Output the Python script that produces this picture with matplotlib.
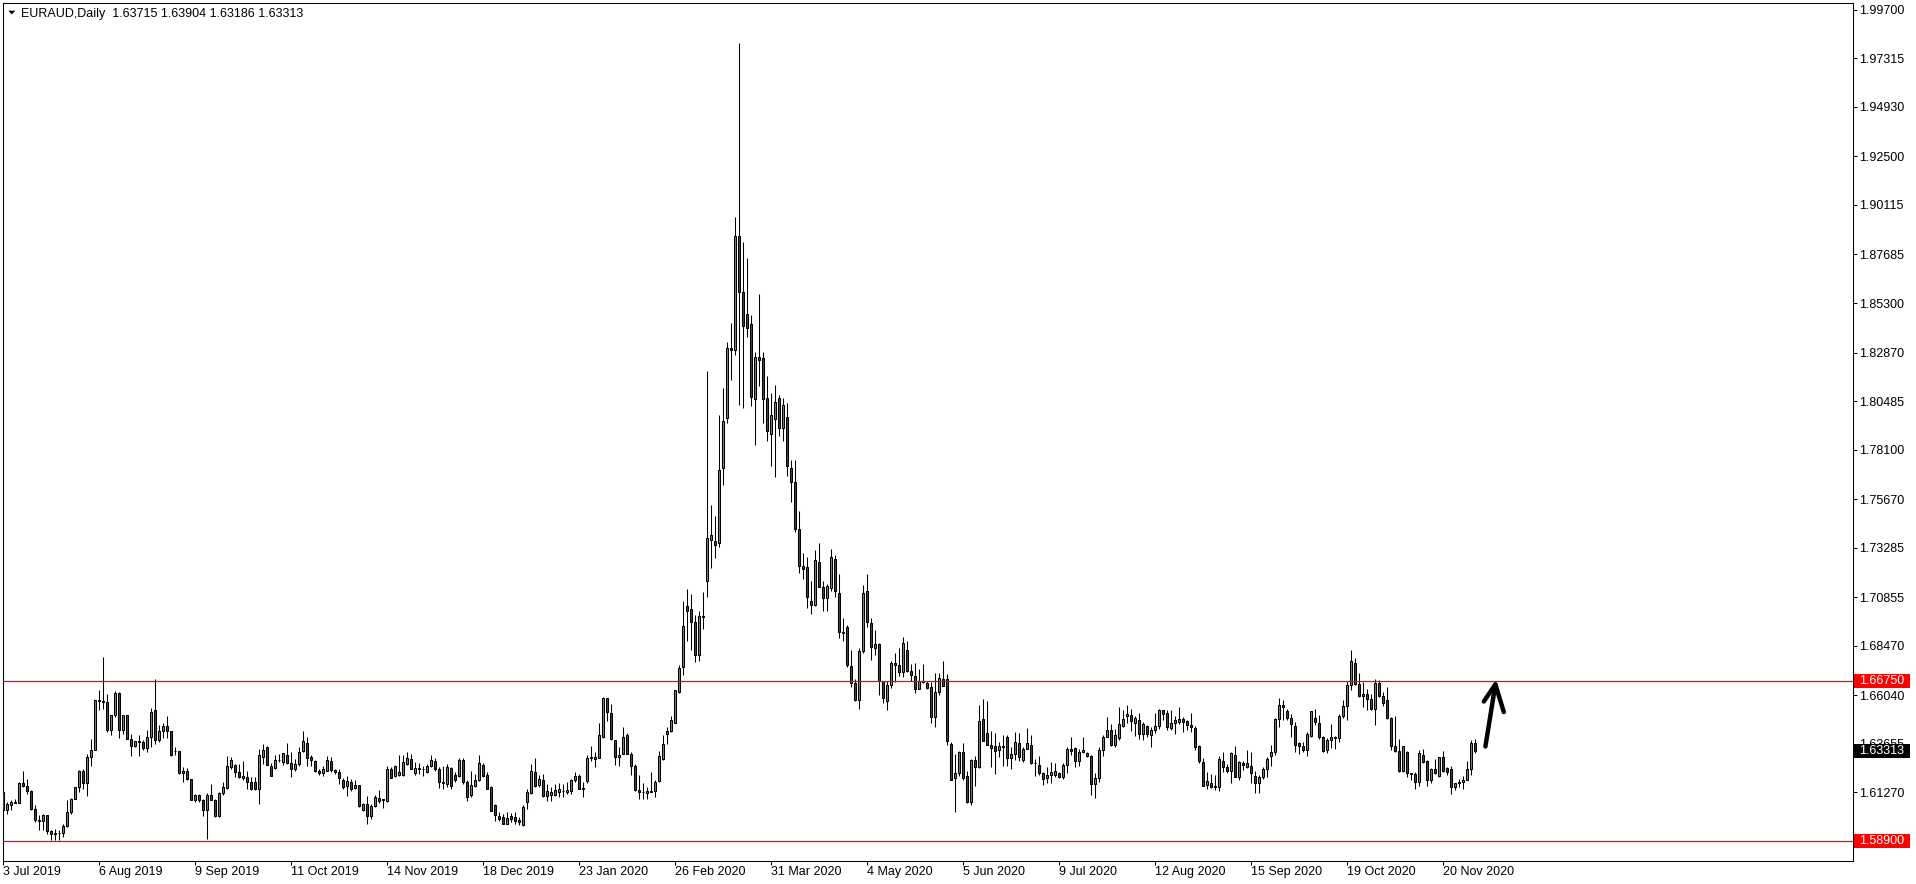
import numpy as np
import matplotlib
matplotlib.use("Agg")
from matplotlib import pyplot as plt
from matplotlib.patches import Rectangle, Polygon
from matplotlib.transforms import blended_transform_factory

# EURAUD daily bars, 3 Jul 2019 .. 2 Dec 2020
opens = [
    1.6129, 1.6042, 1.6063, 1.6080, 1.6076, 1.6175, 1.6158, 1.6134, 1.6047, 1.5990,
    1.5986, 1.6014, 1.5936, 1.5921, 1.5929, 1.5925, 1.5960, 1.6031, 1.6096, 1.6154,
    1.6231, 1.6175, 1.6301, 1.6334, 1.6578, 1.6575, 1.6572, 1.6435, 1.6506, 1.6617,
    1.6432, 1.6506, 1.6391, 1.6355, 1.6378, 1.6376, 1.6345, 1.6401, 1.6530, 1.6383,
    1.6427, 1.6455, 1.6427, 1.6330, 1.6328, 1.6222, 1.6230, 1.6190, 1.6091, 1.6113,
    1.6091, 1.6042, 1.6113, 1.6090, 1.6013, 1.6123, 1.6147, 1.6250, 1.6263, 1.6226,
    1.6198, 1.6204, 1.6180, 1.6177, 1.6144, 1.6299, 1.6349, 1.6258, 1.6247, 1.6286,
    1.6275, 1.6312, 1.6270, 1.6239, 1.6265, 1.6329, 1.6368, 1.6299, 1.6283, 1.6231,
    1.6221, 1.6234, 1.6283, 1.6237, 1.6229, 1.6185, 1.6160, 1.6177, 1.6147, 1.6163,
    1.6042, 1.6070, 1.6013, 1.6062, 1.6100, 1.6090, 1.6086, 1.6239, 1.6206, 1.6214,
    1.6214, 1.6267, 1.6291, 1.6221, 1.6245, 1.6240, 1.6226, 1.6254, 1.6283, 1.6242,
    1.6173, 1.6168, 1.6245, 1.6214, 1.6206, 1.6286, 1.6177, 1.6116, 1.6160, 1.6185,
    1.6263, 1.6214, 1.6152, 1.6067, 1.6013, 1.6005, 1.5972, 1.6013, 1.6008, 1.5993,
    1.5967, 1.6078, 1.6123, 1.6229, 1.6163, 1.6188, 1.6111, 1.6116, 1.6116, 1.6127,
    1.6131, 1.6127, 1.6131, 1.6185, 1.6206, 1.6145, 1.6181, 1.6296, 1.6291, 1.6296,
    1.6401, 1.6589, 1.6517, 1.6384, 1.6299, 1.6316, 1.6406, 1.6316, 1.6258, 1.6140,
    1.6130, 1.6124, 1.6130, 1.6135, 1.6184, 1.6291, 1.6414, 1.6430, 1.6468, 1.6622,
    1.6741, 1.7043, 1.7027, 1.6962, 1.6802, 1.6993, 1.7164, 1.7368, 1.7361, 1.7350,
    1.7722, 1.7967, 1.8309, 1.8300, 1.8859, 1.8585, 1.8478, 1.8427, 1.8060, 1.8263,
    1.8260, 1.8063, 1.7887, 1.7958, 1.8063, 1.7914, 1.7972, 1.7722, 1.7651, 1.7422,
    1.7237, 1.7233, 1.7068, 1.7049, 1.7260, 1.7137, 1.7080, 1.7131, 1.7273, 1.7104,
    1.6915, 1.6940, 1.6746, 1.6664, 1.6579, 1.6822, 1.7118, 1.6959, 1.6836, 1.6856,
    1.6673, 1.6574, 1.6655, 1.6763, 1.6750, 1.6717, 1.6827, 1.6725, 1.6700, 1.6635,
    1.6676, 1.6664, 1.6646, 1.6496, 1.6622, 1.6684, 1.6684, 1.6365, 1.6198, 1.6221,
    1.6327, 1.6209, 1.6081, 1.6286, 1.6250, 1.6487, 1.6417, 1.6360, 1.6353, 1.6335,
    1.6353, 1.6401, 1.6294, 1.6316, 1.6370, 1.6285, 1.6340, 1.6361, 1.6271, 1.6263,
    1.6221, 1.6195, 1.6212, 1.6214, 1.6221, 1.6201, 1.6263, 1.6340, 1.6345, 1.6279,
    1.6324, 1.6320, 1.6307, 1.6168, 1.6198, 1.6335, 1.6401, 1.6433, 1.6361, 1.6393,
    1.6455, 1.6501, 1.6507, 1.6468, 1.6480, 1.6411, 1.6455, 1.6406, 1.6434, 1.6455,
    1.6529, 1.6517, 1.6442, 1.6468, 1.6471, 1.6485, 1.6475, 1.6458, 1.6444, 1.6352,
    1.6278, 1.6165, 1.6173, 1.6160, 1.6152, 1.6283, 1.6250, 1.6234, 1.6311, 1.6201,
    1.6272, 1.6250, 1.6258, 1.6209, 1.6172, 1.6204, 1.6239, 1.6303, 1.6324, 1.6485,
    1.6558, 1.6524, 1.6493, 1.6455, 1.6368, 1.6352, 1.6335, 1.6403, 1.6493, 1.6468,
    1.6401, 1.6333, 1.6386, 1.6401, 1.6394, 1.6504, 1.6553, 1.6652, 1.6761, 1.6660,
    1.6602, 1.6611, 1.6583, 1.6537, 1.6665, 1.6599, 1.6578, 1.6493, 1.6353, 1.6329,
    1.6231, 1.6327, 1.6221, 1.6218, 1.6177, 1.6311, 1.6283, 1.6188, 1.6242, 1.6206,
    1.6299, 1.6247, 1.6242, 1.6152, 1.6172, 1.6177, 1.6188, 1.6239, 1.63715,
]
highs = [
    1.6137, 1.6080, 1.6088, 1.6096, 1.6178, 1.6231, 1.6190, 1.6137, 1.6063, 1.6014,
    1.6022, 1.6016, 1.5940, 1.5949, 1.5940, 1.5973, 1.6088, 1.6099, 1.6155, 1.6235,
    1.6239, 1.6313, 1.6391, 1.6580, 1.6629, 1.6793, 1.6609, 1.6506, 1.6624, 1.6620,
    1.6508, 1.6508, 1.6411, 1.6380, 1.6408, 1.6383, 1.6432, 1.6539, 1.6681, 1.6457,
    1.6465, 1.6501, 1.6430, 1.6350, 1.6329, 1.6252, 1.6244, 1.6192, 1.6121, 1.6121,
    1.6093, 1.6124, 1.6170, 1.6095, 1.6127, 1.6177, 1.6303, 1.6299, 1.6265, 1.6267,
    1.6283, 1.6234, 1.6204, 1.6201, 1.6340, 1.6365, 1.6352, 1.6270, 1.6312, 1.6316,
    1.6321, 1.6368, 1.6324, 1.6291, 1.6349, 1.6430, 1.6401, 1.6308, 1.6286, 1.6242,
    1.6254, 1.6303, 1.6299, 1.6242, 1.6242, 1.6198, 1.6209, 1.6193, 1.6185, 1.6165,
    1.6073, 1.6111, 1.6070, 1.6116, 1.6139, 1.6096, 1.6258, 1.6250, 1.6262, 1.6308,
    1.6308, 1.6324, 1.6316, 1.6275, 1.6270, 1.6258, 1.6267, 1.6308, 1.6294, 1.6250,
    1.6258, 1.6267, 1.6250, 1.6226, 1.6294, 1.6294, 1.6185, 1.6234, 1.6218, 1.6311,
    1.6270, 1.6226, 1.6157, 1.6070, 1.6029, 1.6021, 1.6029, 1.6026, 1.6029, 1.6005,
    1.6065, 1.6144, 1.6267, 1.6296, 1.6214, 1.6218, 1.6168, 1.6152, 1.6168, 1.6172,
    1.6168, 1.6177, 1.6193, 1.6226, 1.6218, 1.6176, 1.6312, 1.6356, 1.6327, 1.6468,
    1.6594, 1.6592, 1.6561, 1.6386, 1.6348, 1.6450, 1.6417, 1.6324, 1.6266, 1.6214,
    1.6171, 1.6152, 1.6225, 1.6189, 1.6332, 1.6406, 1.6450, 1.6504, 1.6629, 1.6750,
    1.7065, 1.7127, 1.7103, 1.6999, 1.7015, 1.7109, 1.8195, 1.7537, 1.7482, 1.7980,
    1.8112, 1.8340, 1.8432, 1.8954, 1.9805, 1.8830, 1.8750, 1.8472, 1.8290, 1.8572,
    1.8290, 1.8172, 1.8087, 1.8127, 1.8078, 1.8063, 1.8041, 1.7758, 1.7758, 1.7509,
    1.7300, 1.7282, 1.7164, 1.7315, 1.7351, 1.7164, 1.7151, 1.7324, 1.7291, 1.7200,
    1.6982, 1.6949, 1.6824, 1.6682, 1.6837, 1.7146, 1.7200, 1.6984, 1.6925, 1.6858,
    1.6675, 1.6676, 1.6774, 1.6812, 1.6836, 1.6892, 1.6868, 1.6758, 1.6763, 1.6733,
    1.6758, 1.6676, 1.6668, 1.6712, 1.6714, 1.6774, 1.6709, 1.6373, 1.6316, 1.6332,
    1.6368, 1.6234, 1.6291, 1.6307, 1.6558, 1.6586, 1.6573, 1.6427, 1.6419, 1.6373,
    1.6406, 1.6406, 1.6348, 1.6422, 1.6417, 1.6348, 1.6443, 1.6406, 1.6291, 1.6307,
    1.6229, 1.6250, 1.6278, 1.6270, 1.6226, 1.6270, 1.6348, 1.6401, 1.6348, 1.6340,
    1.6401, 1.6324, 1.6309, 1.6221, 1.6348, 1.6406, 1.6499, 1.6460, 1.6438, 1.6548,
    1.6529, 1.6558, 1.6537, 1.6504, 1.6517, 1.6471, 1.6458, 1.6450, 1.6517, 1.6537,
    1.6530, 1.6529, 1.6529, 1.6501, 1.6548, 1.6496, 1.6480, 1.6517, 1.6455, 1.6357,
    1.6296, 1.6226, 1.6218, 1.6214, 1.6303, 1.6327, 1.6267, 1.6324, 1.6352, 1.6283,
    1.6280, 1.6335, 1.6324, 1.6234, 1.6213, 1.6250, 1.6299, 1.6360, 1.6491, 1.6591,
    1.6578, 1.6537, 1.6512, 1.6471, 1.6376, 1.6373, 1.6422, 1.6525, 1.6534, 1.6509,
    1.6403, 1.6393, 1.6460, 1.6403, 1.6512, 1.6581, 1.6673, 1.6828, 1.6786, 1.6714,
    1.6668, 1.6635, 1.6611, 1.6684, 1.6679, 1.6619, 1.6643, 1.6496, 1.6504, 1.6390,
    1.6354, 1.6329, 1.6222, 1.6226, 1.6337, 1.6340, 1.6286, 1.6245, 1.6291, 1.6300,
    1.6332, 1.6250, 1.6254, 1.6173, 1.6193, 1.6209, 1.6280, 1.6386, 1.63904,
]
lows = [
    1.6022, 1.6022, 1.6039, 1.6072, 1.6075, 1.6154, 1.6121, 1.6042, 1.5981, 1.5944,
    1.5940, 1.5924, 1.5891, 1.5891, 1.5891, 1.5908, 1.5957, 1.6019, 1.6096, 1.6129,
    1.6145, 1.6108, 1.6257, 1.6334, 1.6531, 1.6534, 1.6424, 1.6408, 1.6498, 1.6394,
    1.6411, 1.6388, 1.6306, 1.6350, 1.6306, 1.6334, 1.6326, 1.6350, 1.6362, 1.6373,
    1.6394, 1.6394, 1.6304, 1.6309, 1.6216, 1.6178, 1.6186, 1.6088, 1.6080, 1.6080,
    1.6009, 1.5899, 1.6088, 1.6005, 1.6008, 1.6116, 1.6144, 1.6242, 1.6201, 1.6198,
    1.6188, 1.6144, 1.6136, 1.6139, 1.6070, 1.6267, 1.6260, 1.6206, 1.6242, 1.6275,
    1.6263, 1.6267, 1.6201, 1.6234, 1.6255, 1.6324, 1.6258, 1.6258, 1.6226, 1.6214,
    1.6209, 1.6231, 1.6226, 1.6218, 1.6168, 1.6144, 1.6111, 1.6132, 1.6144, 1.6054,
    1.6037, 1.5972, 1.5996, 1.6054, 1.6075, 1.6049, 1.6078, 1.6196, 1.6204, 1.6209,
    1.6209, 1.6263, 1.6239, 1.6214, 1.6218, 1.6209, 1.6221, 1.6250, 1.6234, 1.6147,
    1.6144, 1.6152, 1.6144, 1.6177, 1.6201, 1.6168, 1.6086, 1.6103, 1.6152, 1.6182,
    1.6204, 1.6141, 1.6034, 1.5988, 1.5988, 1.5969, 1.5969, 1.5980, 1.5972, 1.5967,
    1.5959, 1.6046, 1.6119, 1.6152, 1.6152, 1.6103, 1.6086, 1.6086, 1.6111, 1.6103,
    1.6103, 1.6119, 1.6119, 1.6180, 1.6144, 1.6103, 1.6171, 1.6283, 1.6250, 1.6294,
    1.6393, 1.6479, 1.6384, 1.6261, 1.6255, 1.6314, 1.6314, 1.6214, 1.6135, 1.6094,
    1.6094, 1.6094, 1.6127, 1.6106, 1.6176, 1.6286, 1.6365, 1.6422, 1.6466, 1.6615,
    1.6704, 1.6872, 1.6824, 1.6769, 1.6774, 1.6929, 1.7087, 1.7230, 1.7280, 1.7333,
    1.7636, 1.7942, 1.8151, 1.8276, 1.8031, 1.8012, 1.8363, 1.8022, 1.7833, 1.8123,
    1.7940, 1.7851, 1.7731, 1.7676, 1.7878, 1.7851, 1.7682, 1.7551, 1.7406, 1.7204,
    1.7173, 1.7033, 1.7004, 1.7042, 1.7135, 1.7018, 1.7018, 1.7118, 1.7088, 1.6886,
    1.6869, 1.6740, 1.6642, 1.6573, 1.6537, 1.6809, 1.6937, 1.6779, 1.6799, 1.6607,
    1.6564, 1.6532, 1.6640, 1.6668, 1.6696, 1.6692, 1.6717, 1.6676, 1.6614, 1.6635,
    1.6663, 1.6635, 1.6466, 1.6450, 1.6606, 1.6647, 1.6361, 1.6187, 1.6029, 1.6209,
    1.6188, 1.6073, 1.6065, 1.6157, 1.6248, 1.6380, 1.6357, 1.6250, 1.6217, 1.6299,
    1.6258, 1.6258, 1.6242, 1.6286, 1.6283, 1.6278, 1.6340, 1.6266, 1.6209, 1.6214,
    1.6163, 1.6171, 1.6171, 1.6201, 1.6196, 1.6193, 1.6221, 1.6312, 1.6250, 1.6258,
    1.6319, 1.6299, 1.6114, 1.6099, 1.6176, 1.6307, 1.6401, 1.6356, 1.6348, 1.6385,
    1.6447, 1.6466, 1.6430, 1.6403, 1.6390, 1.6385, 1.6401, 1.6349, 1.6417, 1.6439,
    1.6480, 1.6434, 1.6434, 1.6414, 1.6463, 1.6422, 1.6434, 1.6422, 1.6335, 1.6270,
    1.6156, 1.6144, 1.6147, 1.6139, 1.6132, 1.6226, 1.6221, 1.6172, 1.6200, 1.6188,
    1.6237, 1.6247, 1.6172, 1.6123, 1.6123, 1.6193, 1.6204, 1.6255, 1.6308, 1.6447,
    1.6480, 1.6483, 1.6398, 1.6327, 1.6316, 1.6327, 1.6304, 1.6398, 1.6458, 1.6390,
    1.6327, 1.6321, 1.6344, 1.6340, 1.6373, 1.6493, 1.6483, 1.6627, 1.6652, 1.6594,
    1.6548, 1.6532, 1.6532, 1.6458, 1.6594, 1.6553, 1.6488, 1.6337, 1.6324, 1.6226,
    1.6226, 1.6201, 1.6188, 1.6144, 1.6157, 1.6270, 1.6160, 1.6172, 1.6218, 1.6201,
    1.6226, 1.6214, 1.6119, 1.6139, 1.6152, 1.6144, 1.6185, 1.6213, 1.63186,
]
closes = [
    1.6039, 1.6068, 1.6080, 1.6076, 1.6175, 1.6158, 1.6134, 1.6047, 1.5990, 1.5986,
    1.6014, 1.5936, 1.5921, 1.5929, 1.5925, 1.5960, 1.6031, 1.6096, 1.6154, 1.6231,
    1.6175, 1.6301, 1.6334, 1.6578, 1.6575, 1.6572, 1.6435, 1.6506, 1.6617, 1.6432,
    1.6506, 1.6391, 1.6355, 1.6378, 1.6376, 1.6345, 1.6401, 1.6520, 1.6383, 1.6427,
    1.6455, 1.6427, 1.6311, 1.6328, 1.6222, 1.6230, 1.6190, 1.6091, 1.6113, 1.6091,
    1.6042, 1.6113, 1.6091, 1.6013, 1.6124, 1.6152, 1.6254, 1.6288, 1.6226, 1.6201,
    1.6209, 1.6177, 1.6144, 1.6144, 1.6308, 1.6337, 1.6262, 1.6209, 1.6286, 1.6284,
    1.6319, 1.6273, 1.6239, 1.6267, 1.6324, 1.6378, 1.6296, 1.6286, 1.6231, 1.6222,
    1.6239, 1.6286, 1.6237, 1.6226, 1.6196, 1.6152, 1.6182, 1.6144, 1.6163, 1.6059,
    1.6070, 1.6013, 1.6062, 1.6103, 1.6086, 1.6095, 1.6239, 1.6198, 1.6255, 1.6226,
    1.6275, 1.6294, 1.6242, 1.6245, 1.6240, 1.6243, 1.6258, 1.6286, 1.6242, 1.6177,
    1.6180, 1.6250, 1.6160, 1.6185, 1.6286, 1.6177, 1.6106, 1.6163, 1.6185, 1.6272,
    1.6209, 1.6144, 1.6037, 1.6016, 1.5996, 1.5972, 1.6001, 1.5996, 1.5984, 1.5980,
    1.6057, 1.6127, 1.6234, 1.6160, 1.6193, 1.6111, 1.6131, 1.6127, 1.6136, 1.6144,
    1.6133, 1.6139, 1.6188, 1.6209, 1.6144, 1.6148, 1.6296, 1.6298, 1.6302, 1.6409,
    1.6589, 1.6520, 1.6389, 1.6302, 1.6312, 1.6397, 1.6316, 1.6255, 1.6140, 1.6130,
    1.6129, 1.6135, 1.6135, 1.6180, 1.6307, 1.6365, 1.6430, 1.6484, 1.6627, 1.6738,
    1.6945, 1.7017, 1.6962, 1.6802, 1.6993, 1.6989, 1.7377, 1.7390, 1.7344, 1.7708,
    1.7949, 1.8309, 1.8301, 1.8859, 1.8585, 1.8418, 1.8409, 1.8069, 1.8263, 1.8252,
    1.8060, 1.7900, 1.7982, 1.8045, 1.7914, 1.8031, 1.7731, 1.7651, 1.7418, 1.7237,
    1.7224, 1.7088, 1.7049, 1.7269, 1.7137, 1.7082, 1.7142, 1.7282, 1.7118, 1.6915,
    1.6909, 1.6751, 1.6664, 1.6579, 1.6819, 1.7104, 1.6964, 1.6840, 1.6856, 1.6673,
    1.6589, 1.6655, 1.6763, 1.6751, 1.6717, 1.6861, 1.6725, 1.6705, 1.6635, 1.6676,
    1.6668, 1.6638, 1.6496, 1.6622, 1.6689, 1.6648, 1.6378, 1.6188, 1.6221, 1.6327,
    1.6198, 1.6081, 1.6286, 1.6250, 1.6479, 1.6381, 1.6360, 1.6343, 1.6329, 1.6353,
    1.6350, 1.6294, 1.6316, 1.6376, 1.6302, 1.6340, 1.6370, 1.6271, 1.6270, 1.6221,
    1.6193, 1.6212, 1.6229, 1.6230, 1.6201, 1.6263, 1.6340, 1.6332, 1.6279, 1.6324,
    1.6335, 1.6307, 1.6168, 1.6198, 1.6335, 1.6401, 1.6433, 1.6361, 1.6406, 1.6463,
    1.6488, 1.6512, 1.6476, 1.6493, 1.6411, 1.6463, 1.6411, 1.6434, 1.6455, 1.6529,
    1.6511, 1.6447, 1.6468, 1.6481, 1.6488, 1.6471, 1.6458, 1.6450, 1.6349, 1.6280,
    1.6157, 1.6182, 1.6152, 1.6152, 1.6291, 1.6250, 1.6231, 1.6321, 1.6201, 1.6278,
    1.6262, 1.6272, 1.6221, 1.6172, 1.6204, 1.6239, 1.6291, 1.6327, 1.6485, 1.6558,
    1.6545, 1.6493, 1.6463, 1.6360, 1.6352, 1.6335, 1.6411, 1.6524, 1.6471, 1.6401,
    1.6332, 1.6386, 1.6401, 1.6394, 1.6504, 1.6553, 1.6652, 1.6774, 1.6660, 1.6602,
    1.6611, 1.6583, 1.6537, 1.6665, 1.6599, 1.6565, 1.6493, 1.6353, 1.6329, 1.6231,
    1.6352, 1.6221, 1.6218, 1.6177, 1.6321, 1.6275, 1.6188, 1.6242, 1.6221, 1.6299,
    1.6231, 1.6226, 1.6152, 1.6172, 1.6177, 1.6188, 1.6239, 1.6370, 1.63313,
]

date_labels = ["3 Jul 2019", "6 Aug 2019", "9 Sep 2019", "11 Oct 2019", "14 Nov 2019",
               "18 Dec 2019", "23 Jan 2020", "26 Feb 2020", "31 Mar 2020", "4 May 2020",
               "5 Jun 2020", "9 Jul 2020", "12 Aug 2020", "15 Sep 2020", "19 Oct 2020",
               "20 Nov 2020"]
bars_per_label = 24

price_ticks = [1.99700, 1.97315, 1.94930, 1.92500, 1.90115, 1.87685, 1.85300, 1.82870,
               1.80485, 1.78100, 1.75670, 1.73285, 1.70855, 1.68470, 1.66040, 1.63655,
               1.61270]
resistance = 1.66750
support = 1.58900
symbol = "EURAUD,Daily"

W, H = 1916, 884
BULL = "#2fb52f"
BEAR = "#e10000"
FONT = "Liberation Sans"


def fx(px):
    return px / W


def fy(py):
    return 1 - py / H


o = np.array(opens)
h = np.array(highs)
l = np.array(lows)
c = np.array(closes)
x = np.arange(len(c))

fig = plt.figure(figsize=(W / 100, H / 100), dpi=100)
fig.patch.set_facecolor("white")
ax = fig.add_axes([fx(2.5), fy(860.5), fx(1852.5) - fx(2.5), fy(2.5) - fy(860.5)])

ax.vlines(x, l, h, color="black", linewidth=0.75, zorder=2)
body_lo = np.minimum(o, c)
body_h = np.maximum(np.abs(c - o), 0.00006)
cols = [BULL if cc >= oo else BEAR for oo, cc in zip(o, c)]
ax.bar(x, body_h, bottom=body_lo, width=0.55, color=cols, edgecolor="black",
       linewidth=0.75, zorder=3)

ax.axhline(resistance, color="red", linewidth=0.9, zorder=4)
ax.axhline(support, color="red", linewidth=0.9, zorder=4)

# hand drawn arrow
ax.plot([370.5, 373.0], [1.6352, 1.6657], color="black", linewidth=3.2,
        solid_capstyle="round", zorder=5)
ax.plot([370.1, 373.0, 375.1], [1.6573, 1.6657, 1.6521], color="black", linewidth=3.2,
        solid_capstyle="round", solid_joinstyle="round", zorder=5)

ax.set_xlim(-0.125, 462.25)
ax.set_ylim(1.5792, 2.0006)

ax.set_xticks(np.arange(len(date_labels)) * bars_per_label)
ax.set_xticklabels(date_labels, ha="left", fontfamily=FONT, fontsize=9)
ax.yaxis.tick_right()
ax.set_yticks(price_ticks)
ax.set_yticklabels(["%.5f" % p for p in price_ticks], fontfamily=FONT, fontsize=9)
ax.tick_params(axis="x", direction="out", length=3, width=0.75, pad=1, colors="black")
ax.tick_params(axis="y", direction="out", length=3, width=0.75, pad=2, colors="black")
for s in ax.spines.values():
    s.set_linewidth(0.75)
    s.set_color("black")

# price labels on the right scale
ax_w = fx(1852.5) - fx(2.5)
tr = blended_transform_factory(ax.transAxes, ax.transData)
box_x0 = 1 + 1.5 / (ax_w * W)
box_w = 56 / (ax_w * W)
box_h = 14 / 2035
for price, face in [(resistance, "red"), (support, "red"), (closes[-1], "black")]:
    ax.add_patch(Rectangle((box_x0, price - box_h / 2), box_w, box_h, transform=tr,
                           facecolor=face, edgecolor="none", clip_on=False, zorder=10))
    ax.text(1 + 6.5 / (ax_w * W), price, "%.5f" % price, transform=tr, color="white",
            ha="left", va="center", fontfamily=FONT, fontsize=9, clip_on=False, zorder=11)

# title in the top left corner
fig.patches.append(Polygon([[fx(8.3), fy(10.7)], [fx(15.3), fy(10.7)], [fx(11.8), fy(14.5)]],
                           closed=True, transform=fig.transFigure, facecolor="black",
                           edgecolor="none"))
title = "%s  %.5f %.5f %.5f %.5f" % (symbol, opens[-1], highs[-1], lows[-1], closes[-1])
fig.text(fx(21), fy(17.5), title, ha="left", va="baseline", fontfamily=FONT, fontsize=9,
         color="black")

fig.savefig("out.png", dpi=100, facecolor="white")
